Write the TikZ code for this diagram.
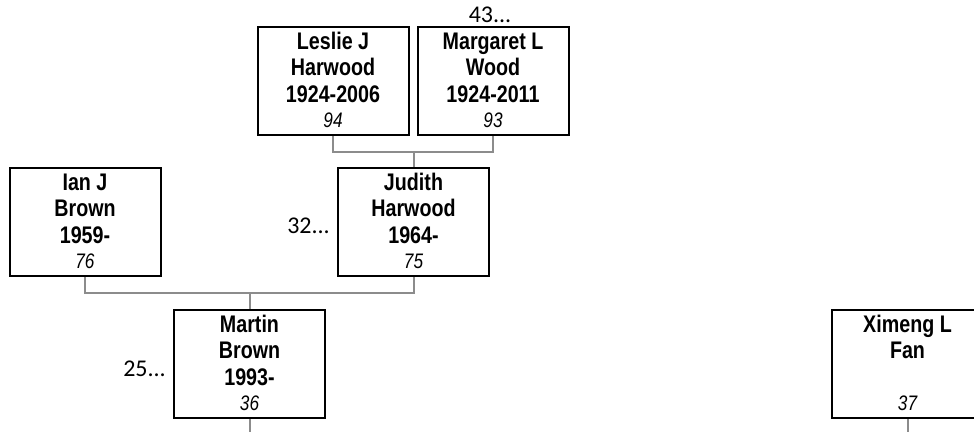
\documentclass[tikz,border=0pt]{standalone}
\usepackage{fontspec}
\setmainfont{Liberation Sans}
\newfontfamily\lblfont{Carlito}
\newfontfamily\narrowfont[FakeStretch=0.82]{Liberation Sans}
\usetikzlibrary{calc}
\definecolor{connc}{HTML}{8C8C8C}
\tikzset{
  pbox/.style={draw=black, line width=2pt, fill=white, minimum width=151pt, minimum height=108pt, inner sep=0pt},
  nm/.style={anchor=base, inner sep=0pt, font=\narrowfont\bfseries\fontsize{24}{26}\selectfont},
  numtxt/.style={anchor=base, inner sep=0pt, font=\narrowfont\itshape\fontsize{21}{23}\selectfont},
  lbl/.style={inner sep=0pt, font=\lblfont\fontsize{24}{25}\selectfont},
  conn/.style={draw=connc, line width=2pt},
}
\newcommand\person[7]{%
  \node[pbox] (#1) at (#2,#3) {};
  \node[nm] (#1-a) at ($(#1.north)+(0,23)$) {#4};
  \node[nm] (#1-b) at ($(#1.north)+(0,49.5)$) {#5};
  \node[nm] (#1-c) at ($(#1.north)+(0,76.5)$) {#6};
  \node[numtxt] (#1-d) at ($(#1.north)+(0,101)$) {#7};
}
\begin{document}
\begin{tikzpicture}[x=1pt,y=-1pt]
\useasboundingbox (0,0) rectangle (974,432);
\clip (0,0) rectangle (974,432);
\person{leslie}{333}{81}{Leslie J}{Harwood}{1924-2006}{94}
\person{margaret}{493}{81}{Margaret L}{Wood}{1924-2011}{93}
\person{ian}{85}{222}{Ian J}{Brown}{1959-}{76}
\person{judith}{413.5}{222}{Judith}{Harwood}{1964-}{75}
\person{martin}{249.5}{364}{Martin}{Brown}{1993-}{36}
\node[pbox] (ximeng) at (907.5,364) {};
\node[nm] (ximeng-a) at ($(ximeng.north)+(0,23)$) {Ximeng L};
\node[nm] (ximeng-b) at ($(ximeng.north)+(0,49.5)$) {Fan};
\node[numtxt] (ximeng-d) at ($(ximeng.north)+(0,101)$) {37};
% labels
\node[lbl, anchor=base] (l43) at ($(margaret.north)+(-3,-4)$) {43...};
\node[lbl, anchor=base east] (l32) at ($(judith.west)+(-7,11)$) {32...};
\node[lbl, anchor=base east] (l25) at ($(martin.west)+(-7,12)$) {25...};
% connectors
\coordinate (lm) at (413.5,152);
\draw[conn] (leslie.south) |- (lm) -| (margaret.south);
\draw[conn] (lm) -- (judith.north);
\coordinate (ij) at (249.5,293);
\draw[conn] (ian.south) |- (ij) -| (judith.south);
\draw[conn] (ij) -- (martin.north);
\coordinate (mend) at (249.5,432);
\draw[conn] (martin.south) -- (mend);
\coordinate (xend) at (907.5,432);
\draw[conn] (ximeng.south) -- (xend);
\end{tikzpicture}
\end{document}
